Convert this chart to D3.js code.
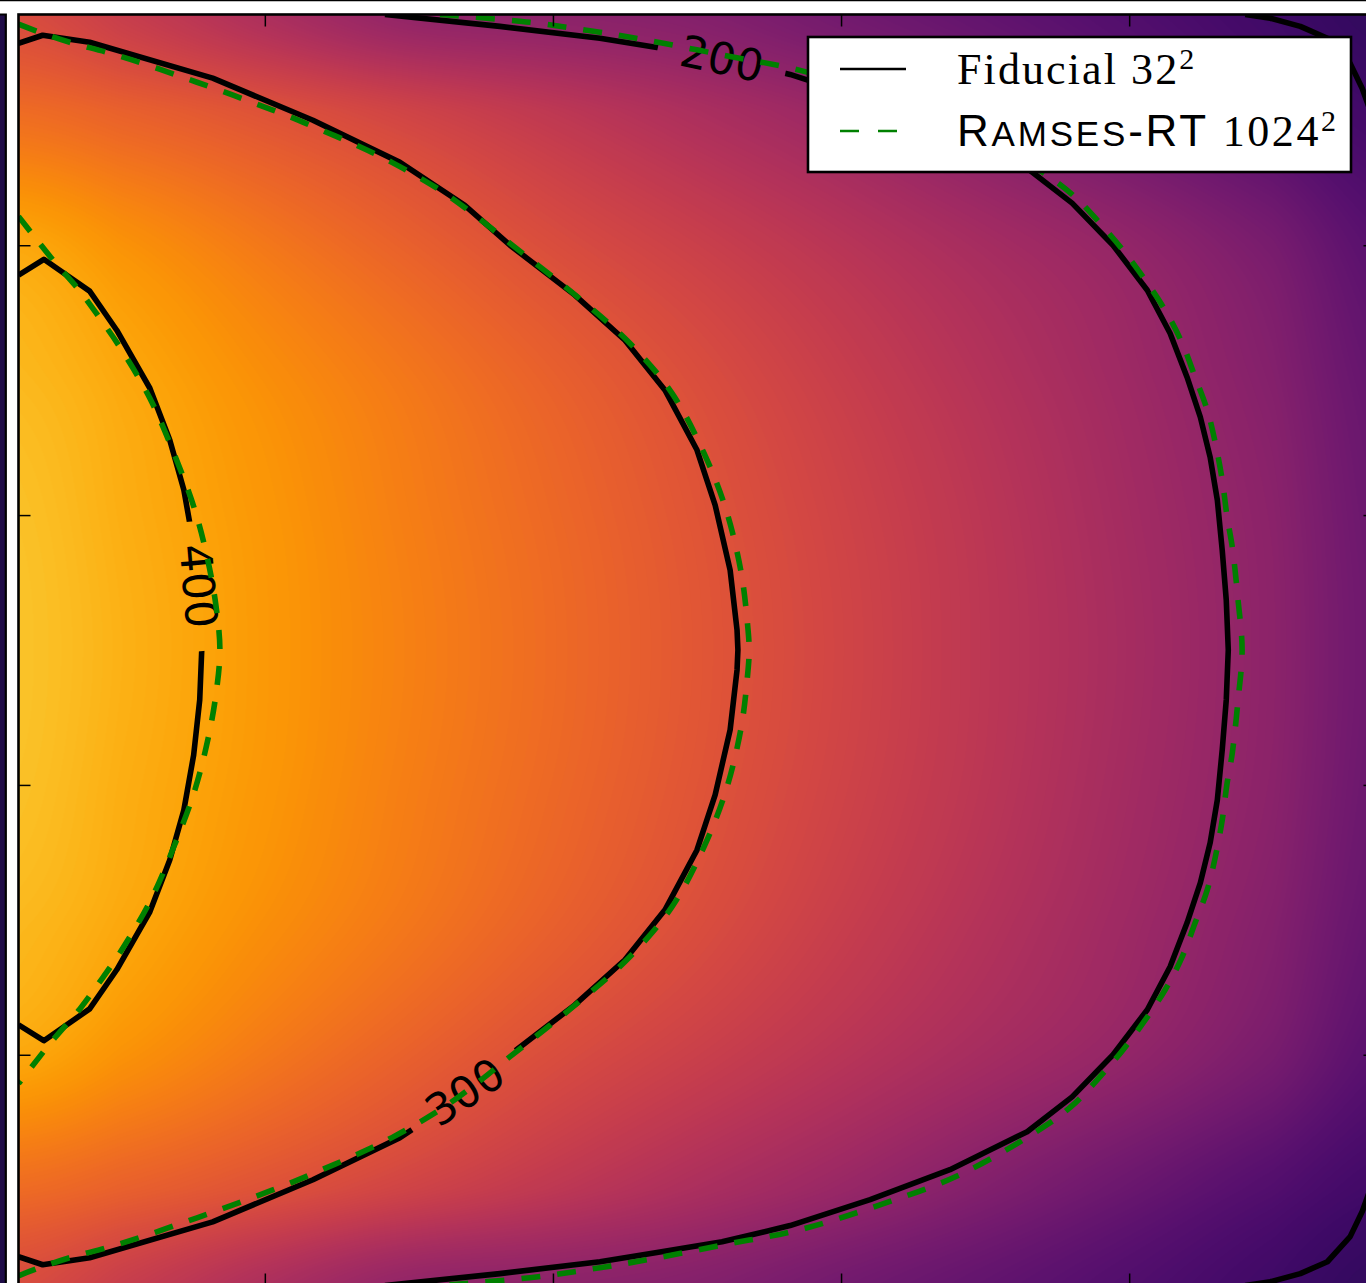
<!DOCTYPE html>
<html>
<head>
<meta charset="utf-8">
<script src="https://cdn.jsdelivr.net/npm/d3@7"></script>
<style>
  body { margin: 0; background: #fff; }
  svg { display: block; }
</style>
</head>
<body>
<div id="chart"></div>
<script>
(function(){

  // ---- data ----
  var xDomain = [-2.355, 2.355]
  var yDomain = [-2.355, 2.355]
  var xTicks = [-1.5, -0.5, 0.5, 1.5]
  var yTicks = [-1.5, -0.5, 0.5, 1.5]

  // coarse samples of the temperature field, rows from top to bottom
  var gridX = [-2.355, -2, -1.5, -1, -0.5, 0, 0.5, 1, 1.5, 2, 2.355]
  var gridY = [2.355, 2, 1.5, 1, 0.5, 0, -0.5, -1, -1.5, -2, -2.355]
  var gridT = [
    [292, 267, 231, 198, 190, 180, 159, 139, 118,  97,  82],
    [336, 322, 301, 277, 253, 229, 205, 177, 148, 119,  99],
    [403, 381, 351, 322, 294, 270, 246, 222, 198, 165, 128],
    [420, 404, 377, 350, 322, 295, 267, 240, 212, 180, 143],
    [428, 410, 386, 358, 332, 305, 277, 249, 219, 188, 150],
    [430, 413, 388, 361, 335, 308, 280, 251, 222, 190, 153],
    [428, 410, 386, 358, 332, 305, 277, 249, 219, 188, 150],
    [420, 404, 377, 350, 322, 295, 267, 240, 212, 180, 143],
    [403, 381, 351, 322, 294, 270, 246, 222, 198, 165, 128],
    [336, 322, 301, 277, 253, 229, 205, 177, 148, 119,  99],
    [292, 267, 231, 198, 190, 180, 159, 139, 118,  97,  82]
  ]
  var colorDomain = [0, 500]

  // Fiducial 32^2 contours (black)
  var fid400 = [[-2.355,1.389],[-2.267,1.448],[-2.108,1.330],[-2.014,1.185],[-1.899,0.970],[-1.830,0.778],
    [-1.781,0.593],[-1.747,0.389],[-1.726,0.185],[-1.719,0],[-1.726,-0.185],[-1.747,-0.389],[-1.781,-0.593],
    [-1.830,-0.778],[-1.899,-0.970],[-2.014,-1.185],[-2.108,-1.330],[-2.267,-1.448],[-2.355,-1.389]]
  var fid300 = [[-2.355,2.248],[-2.271,2.278],[-2.108,2.252],[-1.681,2.119],[-1.333,1.963],[-1.031,1.807],
    [-0.806,1.648],[-0.649,1.500],[-0.424,1.315],[-0.250,1.148],[-0.111,0.963],[0,0.741],[0.063,0.537],
    [0.115,0.296],[0.139,0.074],[0.142,0],[0.139,-0.074],[0.115,-0.296],[0.063,-0.537],[0,-0.741],
    [-0.111,-0.963],[-0.250,-1.148],[-0.424,-1.315],[-0.649,-1.500],[-0.806,-1.648],[-1.031,-1.807],
    [-1.333,-1.963],[-1.681,-2.119],[-2.108,-2.252],[-2.271,-2.278],[-2.355,-2.248]]
  var fid200 = [[-1.083,2.355],[-0.684,2.311],[-0.337,2.267],[-0.139,2.233],[0.087,2.193],[0.323,2.133],
    [0.601,2.037],[0.878,1.926],[1.146,1.785],[1.302,1.656],[1.444,1.500],[1.563,1.333],[1.642,1.174],
    [1.701,1.011],[1.747,0.863],[1.781,0.715],[1.806,0.556],[1.823,0.370],[1.837,0.185],[1.844,0],
    [1.837,-0.185],[1.823,-0.370],[1.806,-0.556],[1.781,-0.715],[1.747,-0.863],[1.701,-1.011],[1.642,-1.174],
    [1.563,-1.333],[1.444,-1.500],[1.302,-1.656],[1.146,-1.785],[0.878,-1.926],[0.601,-2.037],[0.323,-2.133],
    [0.087,-2.193],[-0.139,-2.233],[-0.337,-2.267],[-0.684,-2.311],[-1.083,-2.355]]
  var fid100top = [[1.903,2.355],[1.990,2.341],[2.094,2.311],[2.188,2.267],[2.267,2.174],[2.309,2.081],[2.355,1.944]]
  var fid100bottom = [[1.903,-2.355],[1.990,-2.341],[2.094,-2.311],[2.188,-2.267],[2.267,-2.174],[2.309,-2.081],[2.355,-1.944]]

  // Ramses-RT 1024^2 contours (green, dashed)
  var rt400 = [[-2.355,1.607],[-2.309,1.544],[-2.229,1.437],[-2.142,1.330],[-2.073,1.230],[-2.003,1.122],
    [-1.899,0.933],[-1.813,0.722],[-1.743,0.519],[-1.698,0.333],[-1.670,0.167],[-1.656,0],[-1.670,-0.167],
    [-1.698,-0.333],[-1.743,-0.519],[-1.813,-0.722],[-1.899,-0.933],[-2.003,-1.122],[-2.073,-1.230],
    [-2.142,-1.330],[-2.229,-1.437],[-2.309,-1.544],[-2.355,-1.607]]
  var rt300 = [[-2.355,2.319],[-2.281,2.289],[-2.177,2.252],[-2.049,2.215],[-1.924,2.174],[-1.795,2.126],
    [-1.674,2.081],[-1.545,2.030],[-1.424,1.981],[-1.302,1.926],[-1.181,1.870],[-1.059,1.807],[-0.892,1.704],
    [-0.771,1.611],[-0.649,1.507],[-0.413,1.307],[-0.233,1.137],[-0.087,0.952],[0.024,0.730],[0.101,0.519],
    [0.153,0.289],[0.174,0.111],[0.181,0],[0.174,-0.111],[0.153,-0.289],[0.101,-0.519],[0.024,-0.730],
    [-0.087,-0.952],[-0.233,-1.137],[-0.413,-1.307],[-0.649,-1.507],[-0.771,-1.611],[-0.892,-1.704],
    [-1.059,-1.807],[-1.181,-1.870],[-1.302,-1.926],[-1.424,-1.981],[-1.545,-2.030],[-1.674,-2.081],
    [-1.795,-2.126],[-1.924,-2.174],[-2.049,-2.215],[-2.177,-2.252],[-2.281,-2.289],[-2.355,-2.319]]
  var rt200 = [[-0.892,2.355],[-0.580,2.326],[-0.337,2.289],[-0.170,2.259],[0.094,2.204],[0.358,2.148],
    [0.635,2.056],[0.913,1.944],[1.215,1.759],[1.313,1.678],[1.399,1.581],[1.479,1.481],[1.549,1.381],
    [1.625,1.259],[1.684,1.137],[1.729,1.011],[1.771,0.889],[1.799,0.767],[1.823,0.630],[1.840,0.493],
    [1.858,0.381],[1.878,0.185],[1.892,0],[1.878,-0.185],[1.858,-0.381],[1.840,-0.493],[1.823,-0.630],
    [1.799,-0.767],[1.771,-0.889],[1.729,-1.011],[1.684,-1.137],[1.625,-1.259],[1.549,-1.381],[1.479,-1.481],
    [1.399,-1.581],[1.313,-1.678],[1.215,-1.759],[0.913,-1.944],[0.635,-2.056],[0.358,-2.148],[0.094,-2.204],
    [-0.170,-2.259],[-0.337,-2.289],[-0.580,-2.326],[-0.892,-2.355]]

  var fiducialLines = [fid400, fid300, fid200, fid100top, fid100bottom]
  var ramsesLines = [rt400, rt300, rt200]

  // contour labels on the fiducial lines
  var labelText = ['200', '300', '400']
  var labelX = [0.087, -0.806, -1.729]
  var labelY = [2.193, -1.637, 0.237]
  var labelAngle = [12, -34, 85]

  // ---- layout ----
  var width = 1366, height = 1283
  var box = { left: 18.5, top: 14.5, right: 1375.5, bottom: 1285.5 }

  var svg = d3.select('#chart').append('svg')
    .attr('width', width)
    .attr('height', height)

  var x = d3.scaleLinear().domain(xDomain).range([box.left, box.right])
  var y = d3.scaleLinear().domain(yDomain).range([box.bottom, box.top])

  // neighbouring panel on the left and the edge of the panel above
  svg.append('rect')
    .attr('x', 0).attr('y', box.top)
    .attr('width', 5.8).attr('height', height - box.top)
    .style('fill', '#1f0c47')
  svg.append('path')
    .attr('d', 'M0,' + box.top + 'H5.8V' + height)
    .style('fill', 'none').style('stroke', 'black').style('stroke-width', 2.2)
  svg.append('line')
    .attr('x1', 0).attr('x2', width).attr('y1', 0.6).attr('y2', 0.6)
    .style('stroke', 'black').style('stroke-width', 1.4)

  var defs = svg.append('defs')
  defs.append('clipPath').attr('id', 'plotclip')
    .append('rect')
    .attr('x', box.left).attr('y', box.top)
    .attr('width', box.right - box.left).attr('height', box.bottom - box.top)

  // ---- heat map ----
  var pw = Math.round(box.right - box.left), ph = Math.round(box.bottom - box.top)
  var canvas = document.createElement('canvas')
  canvas.width = pw
  canvas.height = ph
  var ctx = canvas.getContext('2d')
  var img = ctx.createImageData(pw, ph)

  var lut = d3.range(256).map(function(i){ return d3.rgb(d3.interpolateInferno(i / 255)) })
  var nx = gridX.length, ny = gridY.length
  var gx = d3.scaleLinear().domain(gridX).range(d3.range(nx)).clamp(true)
  var gy = d3.scaleLinear().domain(gridY).range(d3.range(ny)).clamp(true)

  function cr(p0, p1, p2, p3, t) {
    return p1 + 0.5 * t * (p2 - p0 + t * (2 * p0 - 5 * p1 + 4 * p2 - p3 + t * (3 * (p1 - p2) + p3 - p0)))
  }
  function val(j, i) {
    j = Math.max(0, Math.min(ny - 1, j))
    i = Math.max(0, Math.min(nx - 1, i))
    return gridT[j][i]
  }

  var colI = [], colT = []
  for (var c = 0; c < pw; c++) {
    var g = gx(x.invert(box.left + c + 0.5))
    var i0 = Math.min(nx - 2, Math.floor(g))
    colI.push(i0); colT.push(g - i0)
  }
  var lo = colorDomain[0], span = colorDomain[1] - colorDomain[0]
  for (var r = 0; r < ph; r++) {
    var h = gy(y.invert(box.top + r + 0.5))
    var j0 = Math.min(ny - 2, Math.floor(h)), tj = h - j0
    for (var c2 = 0; c2 < pw; c2++) {
      var i = colI[c2], t = colT[c2], rows = []
      for (var m = -1; m <= 2; m++) {
        rows.push(cr(val(j0 + m, i - 1), val(j0 + m, i), val(j0 + m, i + 1), val(j0 + m, i + 2), t))
      }
      var v = cr(rows[0], rows[1], rows[2], rows[3], tj)
      var k = Math.max(0, Math.min(255, Math.round((v - lo) / span * 255)))
      var col = lut[k], p = (r * pw + c2) * 4
      img.data[p] = col.r; img.data[p + 1] = col.g; img.data[p + 2] = col.b; img.data[p + 3] = 255
    }
  }
  ctx.putImageData(img, 0, 0)

  svg.append('image')
    .attr('x', box.left).attr('y', box.top)
    .attr('width', pw).attr('height', ph)
    .attr('preserveAspectRatio', 'none')
    .attr('href', canvas.toDataURL())

  // ---- contours ----
  var mask = defs.append('mask').attr('id', 'labelgap')
    .attr('maskUnits', 'userSpaceOnUse')
    .attr('x', 0).attr('y', 0).attr('width', width).attr('height', height)
  mask.append('rect').attr('width', width).attr('height', height).style('fill', 'white')
  labelText.forEach(function(d, i){
    mask.append('rect')
      .attr('x', -65).attr('y', -24).attr('width', 130).attr('height', 48)
      .attr('transform', 'translate(' + x(labelX[i]) + ',' + y(labelY[i]) + ') rotate(' + labelAngle[i] + ')')
      .style('fill', 'black')
  })

  var lineLinear = d3.line().x(function(d){ return x(d[0]) }).y(function(d){ return y(d[1]) })
  var lineSmooth = d3.line().x(function(d){ return x(d[0]) }).y(function(d){ return y(d[1]) })
    .curve(d3.curveCatmullRom.alpha(0.5))

  var plot = svg.append('g').attr('clip-path', 'url(#plotclip)')

  plot.append('g').attr('mask', 'url(#labelgap)')
    .selectAll('path')
    .data(fiducialLines)
    .enter().append('path')
    .attr('d', lineLinear)
    .style('fill', 'none')
    .style('stroke', 'black')
    .style('stroke-width', 5.6)
    .style('stroke-linejoin', 'round')

  plot.selectAll('.clabel')
    .data(labelText)
    .enter().append('text')
    .attr('class', 'clabel')
    .attr('transform', function(d, i){
      return 'translate(' + x(labelX[i]) + ',' + y(labelY[i]) + ') rotate(' + labelAngle[i] + ')'
    })
    .attr('text-anchor', 'middle')
    .attr('dy', '0.36em')
    .style('font-family', '"DejaVu Sans", sans-serif')
    .style('font-size', '44px')
    .style('fill', 'black')
    .text(function(d){ return d })

  plot.append('g')
    .selectAll('path')
    .data(ramsesLines)
    .enter().append('path')
    .attr('d', lineSmooth)
    .style('fill', 'none')
    .style('stroke', 'green')
    .style('stroke-width', 5.6)
    .style('stroke-dasharray', '19,17')

  // ---- frame and inward ticks ----
  function ticks(axis, tx, ty) {
    var g = svg.append('g')
      .attr('transform', 'translate(' + tx + ',' + ty + ')')
      .call(axis.tickSizeInner(-12).tickSizeOuter(0).tickFormat(''))
    g.select('.domain').remove()
    g.selectAll('line').style('stroke', 'black').style('stroke-width', 1.5)
  }
  ticks(d3.axisTop(x).tickValues(xTicks), 0, box.top)
  ticks(d3.axisBottom(x).tickValues(xTicks), 0, box.bottom)
  ticks(d3.axisLeft(y).tickValues(yTicks), box.left, 0)
  ticks(d3.axisRight(y).tickValues(yTicks), box.right, 0)

  svg.append('rect')
    .attr('x', box.left).attr('y', box.top)
    .attr('width', box.right - box.left).attr('height', box.bottom - box.top)
    .style('fill', 'none')
    .style('stroke', 'black')
    .style('stroke-width', 2.6)

  // ---- legend ----
  var legend = svg.append('g').attr('class', 'legend')
  legend.append('rect')
    .attr('x', 808).attr('y', 37)
    .attr('width', 543).attr('height', 135)
    .style('fill', 'white')
    .style('stroke', 'black')
    .style('stroke-width', 2.6)

  legend.append('line')
    .attr('x1', 840).attr('x2', 906).attr('y1', 69).attr('y2', 69)
    .style('stroke', 'black').style('stroke-width', 2.4)
  legend.append('line')
    .attr('x1', 840).attr('x2', 906).attr('y1', 131).attr('y2', 131)
    .style('stroke', 'green').style('stroke-width', 2.4).style('stroke-dasharray', '19,19')

  var serif = '"Liberation Serif", "Times New Roman", serif'
  var sans = '"Liberation Sans", Arial, sans-serif'

  var t1 = legend.append('text')
    .attr('x', 957).attr('y', 84)
    .style('font-family', serif).style('font-size', '44px').style('letter-spacing', '2.1px')
  t1.append('tspan').text('Fiducial 32')
  t1.append('tspan').attr('dy', -15).style('font-size', '30px').style('letter-spacing', '0px').text('2')

  var t2 = legend.append('text')
    .attr('x', 957).attr('y', 146)
    .style('font-family', sans).style('font-size', '44px').style('letter-spacing', '2.8px')
  t2.append('tspan').text('R')
  t2.append('tspan').style('font-size', '35px').text('AMSES')
  t2.append('tspan').text('-RT')
  t2.append('tspan').style('font-family', serif).style('font-size', '44px').style('letter-spacing', '2.6px').text(' 1024')
  t2.append('tspan').attr('dy', -15).style('font-family', serif).style('font-size', '30px').style('letter-spacing', '0px').text('2')

})()
</script>
</body>
</html>
